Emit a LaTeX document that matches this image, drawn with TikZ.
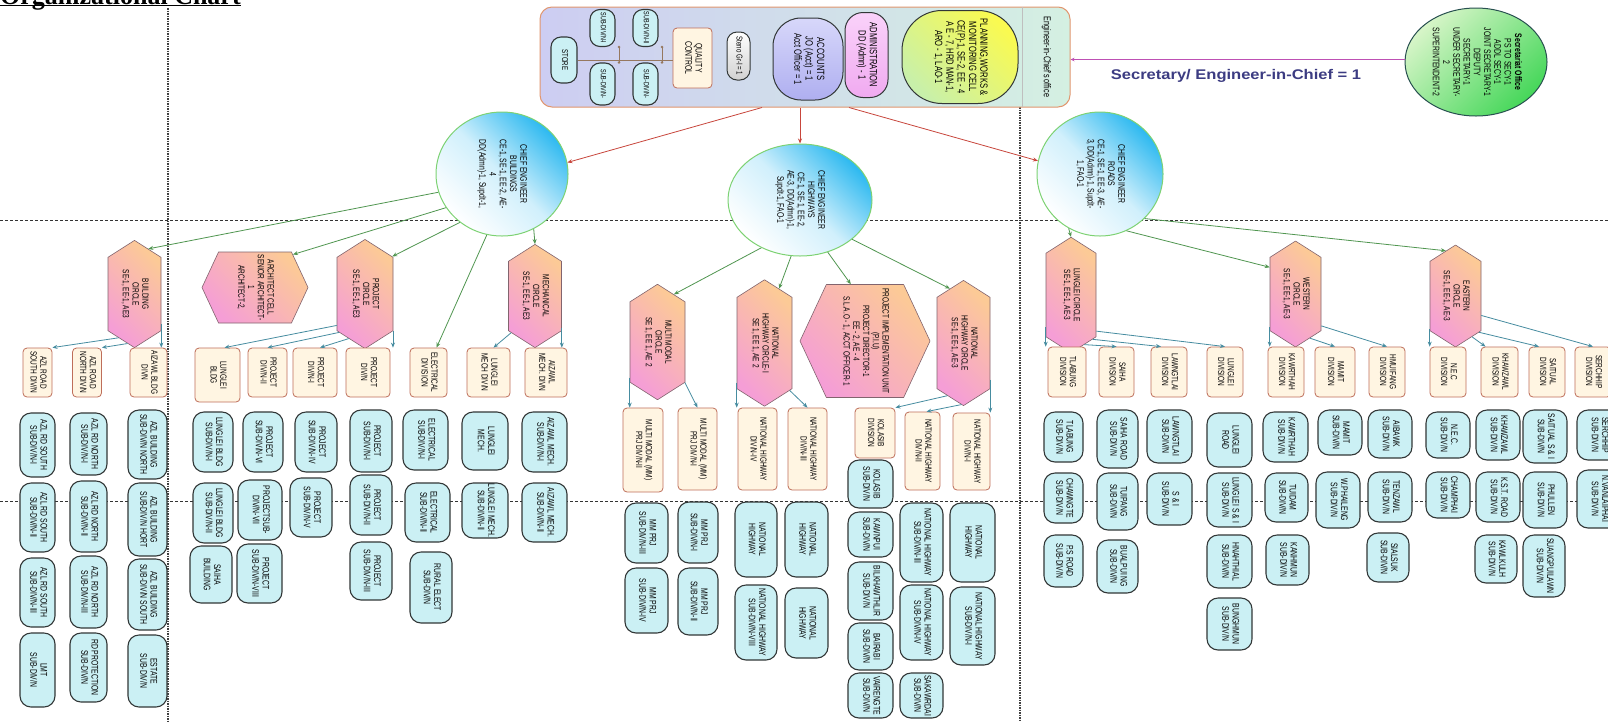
\documentclass[tikz,border=0pt]{standalone}
\usepackage{fontspec}
\setmainfont{Liberation Sans}
\newfontfamily\cond[FakeStretch=0.72]{Liberation Sans}
\newfontfamily\widesans[FakeStretch=1.18]{Liberation Sans}
\newfontfamily\headserif{Liberation Serif}
\usepackage{graphicx}
\usetikzlibrary{shapes.geometric,shapes.symbols,arrows.meta}

\definecolor{subfill}{RGB}{203,240,244}
\definecolor{subdraw}{RGB}{50,55,55}
\definecolor{divfill}{RGB}{255,245,226}
\definecolor{divdraw}{RGB}{190,110,90}
\definecolor{hexpink}{RGB}{245,158,214}
\definecolor{hexpeach}{RGB}{252,202,150}
\definecolor{hexdraw}{RGB}{130,100,110}
\definecolor{ceblue}{RGB}{45,185,240}
\definecolor{cegreen}{RGB}{125,210,115}
\definecolor{arrred}{RGB}{200,70,60}
\definecolor{arrgreen}{RGB}{80,150,80}
\definecolor{arrteal}{RGB}{70,140,160}
\definecolor{seclink}{RGB}{190,80,180}
\definecolor{seclabel}{RGB}{60,60,130}
\definecolor{boxlav}{RGB}{205,205,242}
\definecolor{boxmint}{RGB}{212,240,226}
\definecolor{boxdraw}{RGB}{225,150,110}
\definecolor{treeline}{RGB}{150,120,95}

% rotated multi-line label (reads top to bottom)
\newcommand\rt[2][9.5]{\rotatebox{-90}{\fontsize{#1}{#1}\selectfont\cond\renewcommand\arraystretch{1.08}\begin{tabular}{@{}c@{}}#2\end{tabular}}}
% box given centre x, top y, bottom y and width
\def\bxfont{9.5}
\newcommand\boxat[7]{%
  \pgfmathsetmacro\bxcy{(#4+#5)/2}%
  \pgfmathsetmacro\bxh{#5-#4}%
  \node[#1, minimum width=#6pt, minimum height=\bxh pt] (#2) at (#3,\bxcy) {\rt[\bxfont]{#7}};}

\tikzset{
  subd/.style={draw=subdraw, line width=1.1pt, fill=subfill, rounded corners=11pt, inner sep=0pt},
  divb/.style={draw=divdraw, line width=0.8pt, fill=divfill, rounded corners=4pt, inner sep=0pt},
  hexbase/.style={shape=signal, draw=hexdraw, line width=0.6pt, left color=hexpink, right color=hexpeach, shading angle=135, inner sep=0pt},
  hexv/.style={hexbase, signal to=north and south, signal pointer angle=115},
  hexh/.style={hexbase, signal to=east and west, signal pointer angle=130},
  ce/.style={ellipse, draw=cegreen, line width=1pt, top color=ceblue, bottom color=white, middle color=ceblue!22, shading angle=-45, inner sep=0pt},
  arrR/.style={draw=arrred, line width=0.8pt, -{Stealth[length=5pt,width=4pt]}},
  arrG/.style={draw=arrgreen, line width=0.8pt, -{Stealth[length=5pt,width=4pt]}},
  arrT/.style={draw=arrteal, line width=0.8pt, -{Stealth[length=5pt,width=4pt]}},
  hgrid/.style={draw=black!80, line width=0.6pt, dash pattern=on 3pt off 2pt},
  vgrid/.style={draw=black!75, line width=1.3pt, dash pattern=on 1.5pt off 1pt},
  tree/.style={draw=treeline, line width=0.6pt},
}

\begin{document}
\begin{tikzpicture}[x=1pt,y=-1pt,line join=round]
\useasboundingbox (0,0) rectangle (1608,721);
\fill[white] (0,0) rectangle (1608,721);

% heading
\node[anchor=base west, inner sep=0pt, font={\headserif\bfseries\fontsize{26}{26}\selectfont}] (title) at (0,4) {Organizational Chart};
\draw[line width=1.8pt] ([yshift=-1.5pt]title.base west) -- ([yshift=-1.5pt]title.base east);

% section guides
\draw[hgrid] (0,220) -- (1608,220);
\draw[hgrid] (0,501) -- (1608,501);
\draw[vgrid] (168,8) -- (168,721);
\draw[vgrid] (1020,107) -- (1020,721);

% ---------- Engineer-in-Chief's office ----------
\node[draw=boxdraw, line width=1pt, rounded corners=12pt, left color=boxlav, right color=boxmint, minimum width=530pt, minimum height=100pt, inner sep=0pt] (eic) at (805,57) {};
\draw[draw=black!25, line width=0.6pt] (1022,7) -- (1022,107);
\node[subd, rounded corners=10pt, minimum width=26pt, minimum height=46pt] (store) at (564,60) {\rt[8.5]{STORE}};
\node[subd, rounded corners=10pt, minimum width=25pt, minimum height=37pt] (sa1) at (602.5,28) {\rt[7.5]{SUB-DIV/N-I}};
\node[subd, rounded corners=10pt, minimum width=25pt, minimum height=42pt] (sa2) at (602.5,84) {\rt[7.5]{SUB-DIV/N-}};
\node[subd, rounded corners=10pt, minimum width=25pt, minimum height=37pt] (sb1) at (645.5,28) {\rt[7.5]{SUB-DIV/N-II}};
\node[subd, rounded corners=10pt, minimum width=25pt, minimum height=42pt] (sb2) at (645.5,84) {\rt[7.5]{SUB-DIV/N-}};
\node[divb, minimum width=39pt, minimum height=60pt] (qc) at (692.5,58) {\rt[9.5]{QUALITY\\CONTROL}};
\draw[tree] (store.east) -- (store.east -| qc.west);
\draw[tree] ([xshift=3.5pt]sa1.south east) -- ([xshift=3.5pt]sa2.north east);
\draw[tree] ([xshift=3.5pt]sb1.south east) -- ([xshift=3.5pt]sb2.north east);
\foreach \p in {sa1.south east, sa2.north east, sb1.south east, sb2.north east}
  \fill[treeline] ([xshift=3.5pt]\p) circle (1.4);
\node[draw=subdraw, line width=1pt, top color=white, bottom color=black!18, rounded corners=10pt, minimum width=23pt, minimum height=48pt, inner sep=0pt] (steno) at (738.5,56) {\rt[8.5]{Steno Gr-I = 1}};
\node[draw=subdraw, line width=1pt, top color={rgb,255:red,215;green,215;blue,250}, bottom color={rgb,255:red,175;green,175;blue,240}, rounded corners=28pt, minimum width=70pt, minimum height=82pt, inner sep=0pt] (acct) at (808,59) {\rt[10.5]{ACCOUNTS\\JO (Acct) = 1\\Acct Officer = 1}};
\node[draw=subdraw, line width=1pt, top color={rgb,255:red,250;green,210;blue,250}, bottom color={rgb,255:red,240;green,170;blue,240}, rounded corners=18pt, minimum width=43pt, minimum height=85pt, inner sep=0pt] (admin) at (866.5,55) {\rt[10.5]{ADMINISTRATION\\DD (Admn) - 1}};
\node[draw=subdraw, line width=1pt, top color={rgb,255:red,250;green,250;blue,80}, bottom color={rgb,255:red,200;green,240;blue,170}, shading angle=-45, rounded corners=40pt, minimum width=116pt, minimum height=93pt, inner sep=0pt] (plan) at (960,57) {\rt[10.5]{PLANNING,WORKS \&\\MONITORING CELL\\CE(P)-1, SE-2, EE - 4\\A E - 7, HRD MAN-1,\\ARO - 1, LAO-1}};
\node[inner sep=0pt] (eiclbl) at (1046,57) {\rt[10]{Engineer-in-Chief's office}};

% ---------- Secretariat ----------
\node[ellipse, draw={rgb,255:red,40;green,80;blue,80}, line width=1pt, top color={rgb,255:red,215;green,245;blue,200}, bottom color={rgb,255:red,70;green,215;blue,90}, shading angle=45, minimum width=142pt, minimum height=108pt, inner sep=0pt] (sec) at (1476,62)
  {\rt[9.5]{\bfseries Secretariat Office\\PS TO SECY-1\\ADDL SECY-1\\JOINT SECRETARY-1\\DEPUTY\\SECRETARY-1\\UNDER SECRETARY-\\2\\SUPERINTENDENT-2}};
\draw[draw=seclink, line width=1pt, -{Stealth[length=4pt,width=3.5pt]}] (sec.178) -- (sec.178 -| eic.east);
\node[inner sep=0pt, text=seclabel, font={\widesans\bfseries\fontsize{14}{14}\selectfont}] (seclbl) at (1236,76) {Secretary/ Engineer-in-Chief = 1};

% ---------- Chief engineers ----------
\node[ce, minimum width=132pt, minimum height=124pt] (ceb) at (502,174) {\rt{CHIEF ENGINEER\\BUILDINGS\\CE-1, SE-1, EE-2, AE-\\4\\DD(Admn)-1, Supdt-1,}};
\node[ce, minimum width=144pt, minimum height=112pt] (ceh) at (800,200) {\rt{CHIEF ENGINEER\\HIGHWAYS\\CE-1, SE-1, EE-2,\\AE-3, DD(Admn)-1,\\Supdt-1, FAO-1}};
\node[ce, minimum width=126pt, minimum height=124pt] (cer) at (1100,174) {\rt{CHIEF ENGINEER\\ROADS\\CE-1, SE-1, EE-3, AE-\\3, DD(Admn)-1, Supdt-\\1, FAO-1}};

% ---------- Circles ----------
\node[hexv, minimum width=53pt, minimum height=92pt] (bldgc) at (134.5,294) {\rt[9]{BUILDING\\CIRCLE\\SE-1, EE-1, AE3}};
\node[hexh, minimum width=106pt, minimum height=71pt] (arch) at (255,287.5) {\rt[9]{ARCHITECT CELL\\SENIOR ARCHITECT-\\1\\ARCHITECT-2,}};
\node[hexv, minimum width=56pt, minimum height=92pt] (proj) at (365,294) {\rt[9]{PROJECT\\CIRCLE\\SE-1, EE-1, AE3}};
\node[hexv, minimum width=53pt, minimum height=88pt] (mech) at (535,296) {\rt[9]{MECHANICAL\\CIRCLE\\SE-1, EE-1, AE3}};
\node[hexv, minimum width=55pt, minimum height=99pt] (mm) at (657.5,342) {\rt[9]{MULTI MODAL\\CIRCLE\\SE 1, EE 1, AE 2}};
\node[hexv, minimum width=55pt, minimum height=110pt] (nh1) at (764.5,343) {\rt[9]{NATIONAL\\HIGHWAY CIRCLE-I\\SE 1, EE 1, AE 2}};
\node[hexh, minimum width=130pt, minimum height=113pt] (piu) at (865,341) {\rt[9]{PROJECT IMPLEMENTATION UNIT\\(P.I.U)\\PROJECT DIRECTOR-1\\EE - 2, AE - 4\\S.L.A.O - 1, ACCT OFFICER-1}};
\node[hexv, minimum width=53pt, minimum height=110pt] (nh2) at (963.5,343) {\rt[9]{NATIONAL\\HIGHWAY CIRCLE\\SE-1, EE-1, AE-3}};
\node[hexv, minimum width=50pt, minimum height=96pt] (lungle) at (1071,295) {\rt[9]{LUNGLEI CIRCLE\\SE-1, EE-1, AE-3}};
\node[hexv, minimum width=51pt, minimum height=92pt] (western) at (1295.5,294) {\rt[9]{WESTERN\\CIRCLE\\SE-1, EE-1, AE-3}};
\node[hexv, minimum width=51pt, minimum height=88pt] (eastern) at (1455.5,296) {\rt[9]{EASTERN\\CIRCLE\\SE-1, EE-1, AE-3}};

% ---------- Divisions ----------
\def\bxfont{9}
\boxat{divb}{azrs}{37.5}{348}{397}{29}{AZL ROAD\\SOUTH DIV/N}
\boxat{divb}{azrn}{87}{348}{397}{29}{AZL ROAD\\NORTH DIV/N}
\boxat{divb}{azbd}{148.5}{348}{397}{37}{AIZAWL BLDG\\DIVN}
\boxat{divb}{lbldg}{217.5}{348}{402}{45}{LUNGLEI\\BLDG}
\boxat{divb}{pdiv2}{267.5}{348}{397}{39}{PROJECT\\DIV/N-II}
\boxat{divb}{pdiv1}{315}{348}{397}{44}{PROJECT\\DIV/N-I}
\boxat{divb}{pdiv}{368}{348}{397}{44}{PROJECT\\DIV/N}
\boxat{divb}{elec}{428.5}{348}{397}{37}{ELECTRICAL\\DIVISION}
\boxat{divb}{lmech}{488.5}{348}{397}{43}{LUNGLEI\\MECH DIV/N}
\boxat{divb}{amech}{546}{348}{397}{42}{AIZAWL\\MECH. DIVN}
\boxat{divb}{mmd2}{643}{408}{492}{40}{MULTI MODAL (MM)\\PRJ DIV/N-II}
\boxat{divb}{mmd1}{697.5}{408}{490}{39}{MULTI MODAL (MM)\\PRJ DIV/N-I}
\boxat{divb}{nhd4}{757.5}{408}{490}{39}{NATIONAL HIGHWAY\\DIV/N-IV}
\boxat{divb}{nhd3}{807.5}{408}{490}{39}{NATIONAL HIGHWAY\\DIV/N-III}
\boxat{divb}{kol}{875}{408}{458}{40}{KOLASIB\\DIVISION}
\boxat{divb}{nhdII}{922.5}{412}{490}{35}{NATIONAL HIGHWAY\\DIV/N-II}
\boxat{divb}{nhdI}{971.5}{413}{490}{37}{NATIONAL HIGHWAY\\DIV/N-I}
\boxat{divb}{tlab}{1067}{347}{397}{38}{TLABUNG\\DIVISION}
\boxat{divb}{saiha}{1116.5}{347}{397}{35}{SAIHA\\DIVISION}
\boxat{divb}{lawn}{1169}{347}{397}{36}{LAWNGTLAI\\DIVISION}
\boxat{divb}{lung}{1225}{347}{397}{36}{LUNGLEI\\DIVISION}
\boxat{divb}{kawr}{1286}{347}{397}{36}{KAWRTHAH\\DIVISION}
\boxat{divb}{mamit}{1335}{347}{397}{40}{MAMIT\\DIVISION}
\boxat{divb}{hmui}{1387}{347}{397}{36}{HMUIFANG\\DIVISION}
\boxat{divb}{nec}{1448}{347}{397}{36}{N.E.C\\DIVISION}
\boxat{divb}{khaw}{1499.5}{347}{397}{37}{KHAWZAWL\\DIVISION}
\boxat{divb}{sait}{1547}{347}{397}{36}{SAITUAL\\DIVISION}
\boxat{divb}{serc}{1593}{347}{397}{36}{SERCHHIP\\DIVISION}

% ---------- Sub-divisions: buildings ----------
\def\bxfont{9.5}
\boxat{subd}{s1a}{37.5}{413}{477}{35}{AZL RD SOUTH\\SUB-DIV/N-I}
\boxat{subd}{s1b}{37.5}{483}{552}{35}{AZL RD SOUTH\\SUB-DIV/N-II}
\boxat{subd}{s1c}{37.5}{558}{627}{35}{AZL RD SOUTH\\SUB-DIV/N-III}
\boxat{subd}{s1d}{37.5}{633}{707}{35}{LMT\\SUB-DIV/N}
\boxat{subd}{s2a}{88.5}{413}{475}{37}{AZL RD NORTH\\SUB-DIV/N-I}
\boxat{subd}{s2b}{88.5}{481}{552}{37}{AZL RD NORTH\\SUB-DIV/N-II}
\boxat{subd}{s2c}{88.5}{556}{628}{37}{AZL RD NORTH\\SUB-DIV/N-III}
\boxat{subd}{s2d}{88.5}{633}{702}{37}{RD PROTECTION\\SUB-DIV/N}
\boxat{subd}{s3a}{147.5}{410}{479}{39}{AZL BUILDING\\SUB-DIV/N NORTH}
\boxat{subd}{s3b}{147.5}{483}{556}{39}{AZL BUILDING\\SUB-DIV/N HORT}
\boxat{subd}{s3c}{147.5}{559}{630}{39}{AZL BUILDING\\SUB-DIV/N SOUTH}
\boxat{subd}{s3d}{147.5}{635}{707}{39}{ESTATE\\SUB-DIV/N}
\boxat{subd}{s4a}{213}{412}{472}{40}{LUNGLEI BLDG\\SUB-DIV/N-I}
\boxat{subd}{s4b}{213}{483}{543}{40}{LUNGLEI BLDG\\SUB-DIV/N-II}
\boxat{subd}{s4c}{211}{546}{603}{42}{SAIHA\\BUILDING}
\boxat{subd}{s5a}{263}{412}{472}{40}{PROJECT\\SUB-DIV/N-VI}
\boxat{subd}{s5b}{260}{480}{540}{44}{PROJECTSUB-\\DIV/N-VII}
\boxat{subd}{s5c}{259.5}{544}{603}{45}{PROJECT\\SUB-DIV/N-VIII}
\boxat{subd}{s6a}{316}{412}{472}{42}{PROJECT\\SUB-DIV/N-IV}
\boxat{subd}{s6b}{311}{478}{537}{42}{PROJECT\\SUB-DIV/N-V}
\boxat{subd}{s7a}{371}{410}{472}{42}{PROJECT\\SUB-DIV/N-I}
\boxat{subd}{s7b}{371}{475}{535}{42}{PROJECT\\SUB-DIV/N-II}
\boxat{subd}{s7c}{371}{542}{600}{42}{PROJECT\\SUB-DIV/N-III}
\boxat{subd}{s8a}{425.5}{410}{470}{45}{ELECTRICAL\\SUB-DIV/N-I}
\boxat{subd}{s8b}{427.5}{483}{542}{45}{ELECTRICAL\\SUB-DIV/N-II}
\boxat{subd}{s8c}{431}{552}{623}{42}{RURAL ELECT\\SUB-DIV/N}
\boxat{subd}{s9a}{485}{412}{470}{46}{LUNGLEI\\MECH.}
\boxat{subd}{s9b}{485}{483}{538}{46}{LUNGLEI MECH.\\SUB-DIV/N-II}
\boxat{subd}{s10a}{544.5}{412}{472}{45}{AIZAWL MECH.\\SUB-DIV/N-I}
\boxat{subd}{s10b}{544.5}{483}{542}{45}{AIZAWL MECH.\\SUB-DIV/N-II}

% ---------- Sub-divisions: highways ----------
\boxat{subd}{m1a}{646.5}{503}{563}{43}{MM PRJ\\SUB-DIV/N-III}
\boxat{subd}{m1b}{646.5}{568}{633}{43}{MM PRJ\\SUB-DIV/N-IV}
\boxat{subd}{m2a}{698}{502}{563}{40}{MM PRJ\\SUB-DIV/N-I}
\boxat{subd}{m2b}{698}{568}{635}{40}{MM PRJ\\SUB-DIV/N-II}
\boxat{subd}{m3a}{756}{502}{577}{42}{NATIONAL\\HIGHWAY}
\boxat{subd}{m3b}{756}{585}{660}{42}{NATIONAL HIGHWAY\\SUB-DIV/N-VIII}
\boxat{subd}{m4a}{806.5}{502}{577}{43}{NATIONAL\\HIGHWAY}
\boxat{subd}{m4b}{806.5}{588}{658}{43}{NATIONAL\\HIGHWAY}
\boxat{subd}{m5a}{870.5}{460}{508}{45}{KOLASIB\\SUB-DIV/N}
\boxat{subd}{m5b}{870.5}{512}{557}{45}{KAWNPUI\\SUB-DIV/N}
\boxat{subd}{m5c}{870.5}{562}{620}{45}{BILKHAWTHLIR\\SUB-DIV/N}
\boxat{subd}{m5d}{870.5}{623}{670}{45}{BAIRABI\\SUB-DIV/N}
\boxat{subd}{m5e}{870.5}{673}{718}{45}{VAIRENGTE\\SUB-DIV/N}
\boxat{subd}{m6a}{921.5}{503}{582}{43}{NATIONAL HIGHWAY\\SUB-DIV/N-III}
\boxat{subd}{m6b}{921.5}{585}{660}{43}{NATIONAL HIGHWAY\\SUB-DIV/N-IV}
\boxat{subd}{m6c}{921.5}{673}{718}{43}{SAKAWRDAI\\SUB-DIV/N}
\boxat{subd}{m7a}{972.5}{503}{582}{45}{NATIONAL\\HIGHWAY}
\boxat{subd}{m7b}{972.5}{587}{665}{45}{NATIONAL HIGHWAY\\SUB-DIV/N-I}

% ---------- Sub-divisions: roads ----------
\boxat{subd}{r1a}{1063.5}{412}{462}{39}{TLABUNG\\SUB-DIV/N}
\boxat{subd}{r1b}{1063.5}{473}{523}{39}{CHAWNGTE\\SUB-DIV/N}
\boxat{subd}{r1c}{1063.5}{535}{587}{39}{P.S ROAD\\SUB-DIV/N}
\boxat{subd}{r2a}{1117.5}{410}{468}{41}{SAIHA ROAD\\SUB-DIV/N}
\boxat{subd}{r2b}{1117.5}{473}{530}{41}{TUIPANG\\SUB-DIV/N}
\boxat{subd}{r2c}{1117.5}{540}{593}{41}{BUALPUI NG\\SUB-DIV/N}
\boxat{subd}{r3a}{1169.5}{410}{463}{45}{LAWNGTLAI\\SUB-DIV/N}
\boxat{subd}{r3b}{1169.5}{473}{525}{45}{S \& I\\SUB-DIV/N}
\boxat{subd}{r4a}{1229.5}{413}{467}{45}{LUNGLEI\\ROAD}
\boxat{subd}{r4b}{1229.5}{473}{527}{45}{LUNGLEI S \& I\\SUB-DIV/N}
\boxat{subd}{r4c}{1229.5}{535}{588}{45}{HNAHTHIAL\\SUB-DIV/N}
\boxat{subd}{r4d}{1229.5}{598}{650}{45}{BUNGHMUN\\SUB-DIV/N}
\boxat{subd}{r5a}{1285.5}{412}{462}{45}{KAWRTHAH\\SUB-DIV/N}
\boxat{subd}{r5b}{1286.5}{473}{522}{43}{TUIDAM\\SUB-DIV/N}
\boxat{subd}{r5c}{1287.5}{535}{585}{43}{KANHMUN\\SUB-DIV/N}
\boxat{subd}{r6a}{1340}{410}{455}{44}{MAMIT\\SUB-DIV/N}
\boxat{subd}{r6b}{1338}{472}{528}{44}{W.PHAILENG\\SUB-DIV/N}
\boxat{subd}{r7a}{1390}{410}{458}{44}{AIBAWK\\SUB-DIV/N}
\boxat{subd}{r7b}{1390}{472}{522}{44}{TENZAWL\\SUB-DIV/N}
\boxat{subd}{r7c}{1388}{533}{582}{42}{SIALSUK\\SUB-DIV/N}
\boxat{subd}{r8a}{1448}{412}{458}{44}{N.E.C.\\SUB-DIV/N}
\boxat{subd}{r8b}{1448}{472}{518}{44}{CHAMPHAI\\SUB-DIV/N}
\boxat{subd}{r9a}{1498}{410}{460}{44}{KHAWZAWL\\SUB-DIV/N}
\boxat{subd}{r9b}{1498}{472}{522}{44}{K.S.T. ROAD\\SUB-DIV/N}
\boxat{subd}{r9c}{1496}{535}{583}{42}{KAWLKULH\\SUB-DIV/N}
\boxat{subd}{r10a}{1545}{410}{463}{44}{SAITUAL S \& I\\SUB-DIV/N}
\boxat{subd}{r10b}{1545}{472}{528}{44}{PHULLEN\\SUB-DIV/N}
\boxat{subd}{r10c}{1544}{535}{597}{42}{SUANGPUILAWN\\SUB-DIV/N}
\boxat{subd}{r11a}{1599}{410}{460}{44}{SERCHHIP\\SUB-DIV/N}
\boxat{subd}{r11b}{1599}{470}{528}{44}{N.VANLAIPHAI\\SUB-DIV/N}

% ---------- Connectors ----------
\draw[arrR] ([xshift=-43pt]eic.south) -- (ceb.10);
\draw[arrR] (eic.south -| ceh.north) -- (ceh.north);
\draw[arrR] ([xshift=44pt]eic.south) -- (cer.168);

\draw[arrG] (ceb.196) -- (bldgc.73);
\draw[arrG] (ceb.211) -- (arch.41);
\draw[arrG] (ceb.229) -- (proj.54);
\draw[arrG] (ceb.256) -- ([xshift=8pt]elec.north);
\draw[arrG] (ceb.300) -- (mech.north);
\draw[arrG] (ceh.231) -- (mm.71);
\draw[arrG] (ceh.261) -- (nh1.75);
\draw[arrG] (ceh.298) -- (piu.104);
\draw[arrG] (ceh.323) -- (nh2.104);
\draw[arrG] (cer.240) -- (lungle.north);
\draw[arrG] (cer.295) -- (western.134);
\draw[arrG] (cer.315) -- (eastern.102);

\draw[arrT] (bldgc.250) -- (azrs.north east);
\draw[arrT] (bldgc.262) -- (azrn.north east);
\draw[arrT] (bldgc.312) -- (bldgc.312 |- azbd.north);
\draw[arrT] (proj.228) -- ([xshift=7pt]lbldg.north);
\draw[arrT] (proj.236) -- (pdiv2.north);
\draw[arrT] (proj.250) -- ([xshift=5pt]pdiv1.north);
\draw[arrT] (proj.307) -- (proj.307 |- pdiv.north);
\draw[arrT] (mech.237) -- ([xshift=5pt]lmech.north);
\draw[arrT] (mech.310) -- (mech.310 |- amech.north);

\draw[arrT] (mm.232) -- (mm.232 |- mmd2.north);
\draw[arrT] (mm.304) -- (mmd1.north);
\draw[arrT] (nh1.235) -- (nh1.235 |- nhd4.north);
\draw[arrT] (nh1.298) -- (nhd3.north);
\draw[arrT] (nh2.253) -- (kol.north east);
\draw[arrT] (nh2.268) -- ([xshift=4pt]nhdII.north);
\draw[arrT] (nh2.306) -- (nh2.306 |- nhdI.north);

\draw[arrT] (lungle.232) -- (lungle.232 |- tlab.north);
\draw[arrT] (lungle.285) -- (saiha.north);
\draw[arrT] (lungle.296) -- ([xshift=-8pt]lawn.north);
\draw[arrT] (lungle.305) -- (lung.north);
\draw[arrT] (western.232) -- (western.232 |- kawr.north);
\draw[arrT] (western.288) -- (mamit.north);
\draw[arrT] (western.309) -- (hmui.north);
\draw[arrT] (eastern.232) -- (eastern.232 |- nec.north);
\draw[arrT] (eastern.292) -- ([xshift=-14pt]khaw.north);
\draw[arrT] (eastern.303) -- ([xshift=-8pt]sait.north);
\draw[arrT] (eastern.323) -- (serc.north);
\end{tikzpicture}
\end{document}
